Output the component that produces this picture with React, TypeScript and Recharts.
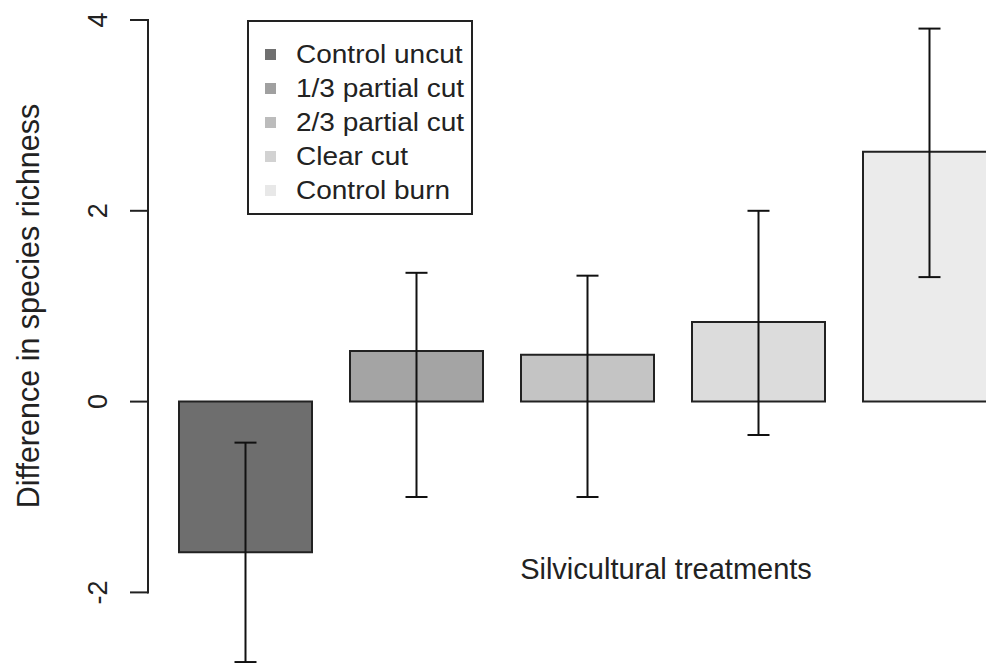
import React from 'react';
import { BarChart, Bar, XAxis, YAxis, ErrorBar, Cell, Legend } from 'recharts';

const treatments = ['Control uncut', '1/3 partial cut', '2/3 partial cut', 'Clear cut', 'Control burn'];
const means = [-1.58, 0.53, 0.49, 0.835, 2.62];
const lowerCI = [-2.73, -1.0, -1.0, -0.35, 1.305];
const upperCI = [-0.43, 1.35, 1.32, 2.0, 3.91];
const fills = ['#6e6e6e', '#a4a4a4', '#c4c4c4', '#dcdcdc', '#ebebeb'];
const legendFills = ['#707070', '#a0a0a0', '#bcbcbc', '#d2d2d2', '#e8e8e8'];
const yTicks = [-2, 0, 2, 4];

const data = treatments.map((name, i) => ({
  name,
  value: means[i],
  err: [means[i] - lowerCI[i], upperCI[i] - means[i]],
}));

const FONT = '"Liberation Sans", Arial, sans-serif';
const CHART_H = 663;
const TOP = 20;
const DOMAIN: [number, number] = [-2.74, 4];
const pxPerUnit = (CHART_H - TOP) / (DOMAIN[1] - DOMAIN[0]);

// R style axis: ticks + rotated labels, line only spans the tick range
const YTick = (props: any) => {
  const { x, y, payload } = props;
  const v = payload.value;
  const lineX = x - 12;
  return (
    <g>
      <line x1={lineX - 18} y1={y} x2={lineX} y2={y} stroke="#222" strokeWidth={2} />
      {v === yTicks[yTicks.length - 1] && (
        <line
          x1={lineX}
          y1={y - 1}
          x2={lineX}
          y2={y + (yTicks[yTicks.length - 1] - yTicks[0]) * pxPerUnit + 1}
          stroke="#222"
          strokeWidth={2}
        />
      )}
      <text
        x={x - 62}
        y={y}
        transform={`rotate(-90 ${x - 62} ${y})`}
        textAnchor="middle"
        dominantBaseline="central"
        fontSize={27}
        fontFamily={FONT}
        fill="#222"
      >
        {v}
      </text>
    </g>
  );
};

const LegendBox = () => (
  <div
    style={{
      width: 226,
      height: 195,
      border: '2px solid #222',
      boxSizing: 'border-box',
      background: '#fff',
      fontFamily: FONT,
      fontSize: 25,
      color: '#222',
      paddingTop: 15,
    }}
  >
    {treatments.map((t, i) => (
      <div key={t} style={{ display: 'flex', alignItems: 'center', height: 34, lineHeight: '34px' }}>
        <span
          style={{ width: 11, height: 11, background: legendFills[i], marginLeft: 16, marginRight: 20, flex: 'none' }}
        />
        <span style={{ display: 'inline-block', transform: 'scaleX(1.12)', transformOrigin: 'left center', whiteSpace: 'nowrap' }}>
          {t}
        </span>
      </div>
    ))}
  </div>
);

export default function App() {
  return (
    <div
      style={{
        position: 'fixed',
        left: 0,
        top: 0,
        width: 986,
        height: 663,
        overflow: 'hidden',
        background: '#fff',
      }}
    >
      <BarChart
        width={1030}
        height={CHART_H}
        data={data}
        margin={{ top: TOP, right: 15, bottom: 0, left: 0 }}
      >
        <XAxis dataKey="name" hide />
        <YAxis
          type="number"
          domain={DOMAIN}
          ticks={yTicks}
          width={160}
          axisLine={false}
          tickLine={false}
          tickSize={0}
          tickMargin={0}
          tick={<YTick />}
          interval={0}
        />
        <Legend
          layout="vertical"
          align="center"
          verticalAlign="middle"
          wrapperStyle={{ position: 'absolute', left: 247, top: 20, width: 'auto' }}
          content={() => <LegendBox />}
        />
        <Bar dataKey="value" barSize={133} stroke="#222" strokeWidth={2} isAnimationActive={false}>
          {data.map((d, i) => (
            <Cell key={d.name} fill={fills[i]} />
          ))}
          <ErrorBar dataKey="err" width={11} stroke="#111" strokeWidth={2} direction="y" />
        </Bar>
      </BarChart>
      <div
        style={{
          position: 'absolute',
          left: 28,
          top: 306,
          transform: 'translate(-50%, -50%) rotate(-90deg)',
          transformOrigin: 'center',
          whiteSpace: 'nowrap',
          fontFamily: FONT,
          fontSize: 30.5,
          color: '#222',
        }}
      >
        Difference in species richness
      </div>
      <div
        style={{
          position: 'absolute',
          left: 666,
          top: 569,
          transform: 'translate(-50%, -50%)',
          whiteSpace: 'nowrap',
          fontFamily: FONT,
          fontSize: 29,
          color: '#222',
        }}
      >
        Silvicultural treatments
      </div>
    </div>
  );
}
